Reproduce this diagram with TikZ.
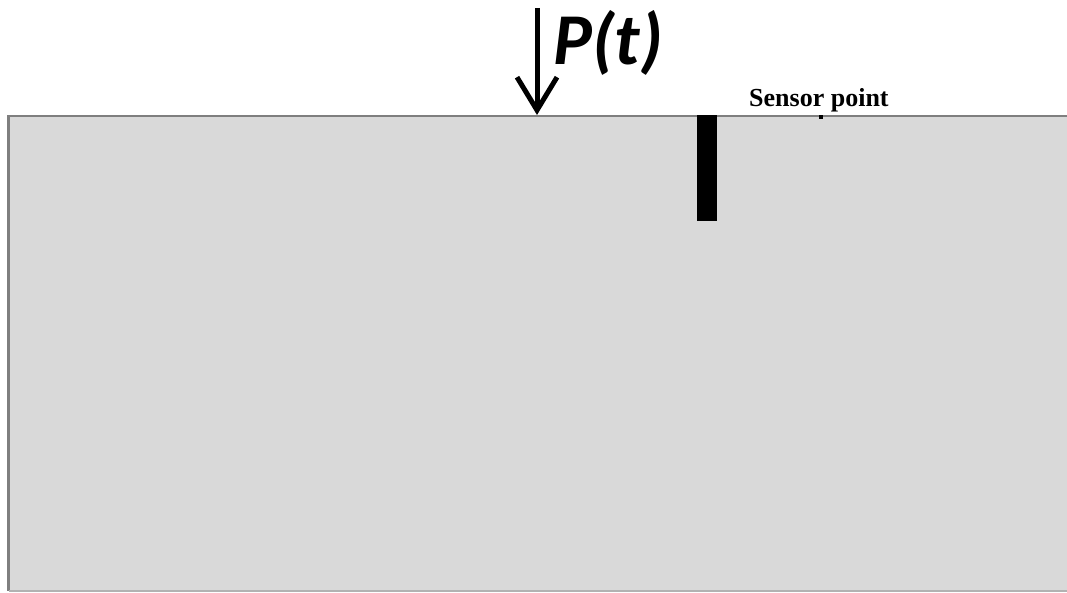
\documentclass[tikz,border=0pt]{standalone}
\usepackage{fontspec}
\setmainfont{Liberation Serif}
\newfontfamily\labelsans{Carlito}
\usetikzlibrary{arrows.meta}
\definecolor{slab}{HTML}{D9D9D9}
\definecolor{edge}{HTML}{7F7F7F}
\tikzset{
  loadarrow/.style={line width=5pt, -{Straight Barb[length=33pt, width=40pt]}},
  sensorbar/.style={fill=black, draw=none},
}
\begin{document}
\begin{tikzpicture}[x=1pt, y=-1pt]
  \useasboundingbox (0,0) rectangle (1067,593);
  % concrete block (open on the right side)
  \fill[slab] (8.5,116) rectangle (1067,591);
  \draw[edge, line width=2.2pt] (1067,116) -- (8.5,116) -- (8.5,591);
  \draw[edge!60, line width=1.4pt] (8.5,591) -- (1067,591);
  \coordinate (surf) at (537,115);
  \coordinate (top) at (537,8);
  % applied load
  \draw[loadarrow] (top) -- (surf);
  \node[anchor=south west, inner sep=0pt, font=\labelsans\bfseries\itshape\fontsize{73}{73}\selectfont] (load) at (553,76) {P(t)};
  % embedded sensor bar
  \node[sensorbar, minimum width=20pt, minimum height=106pt, inner sep=0pt, anchor=north] (bar) at (707,115) {};
  % sensor point
  \node[fill=black, inner sep=0pt, minimum size=3.5pt] (sp) at (821,117) {};
  \node[anchor=base west, inner sep=0pt, font=\bfseries\fontsize{26}{26}\selectfont] (splabel) at (749,107) {Sensor point};
\end{tikzpicture}
\end{document}
